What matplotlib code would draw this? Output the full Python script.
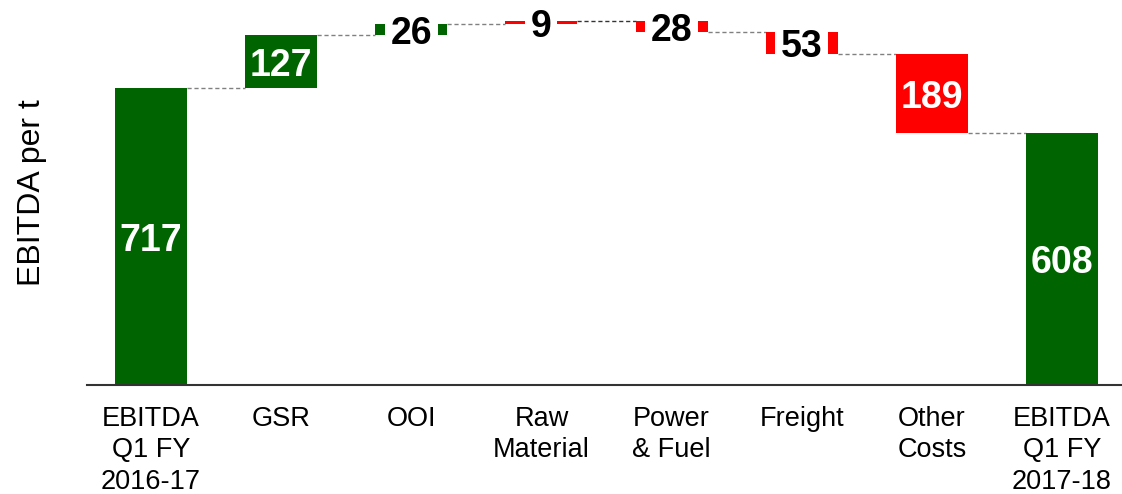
import numpy as np
import matplotlib
matplotlib.use('Agg')
import matplotlib.pyplot as plt

# data
categories = ['EBITDA\nQ1 FY\n2016-17', 'GSR', 'OOI', 'Raw\nMaterial', 'Power\n& Fuel',
              'Freight', 'Other\nCosts', 'EBITDA\nQ1 FY\n2017-18']
start_value = 717
end_value = 608
changes = [127, 26, 9, -28, -53, -189]
change_labels = ['127', '26', '9', '28', '53', '189']
is_cost = [False, False, True, True, True, True]

GREEN = '#006400'
RED = '#ff0000'

plt.rcParams['font.family'] = ['Liberation Sans', 'DejaVu Sans']

fig = plt.figure(figsize=(11.22, 4.94), dpi=100)
ax = fig.add_axes([87/1122., 109/494., 1035/1122., 385/494.])

width = 0.553
n = len(categories)
x = np.arange(n)

# bottoms / heights of every bar
bottoms = [0]
heights = [start_value]
colors = [GREEN]
labels = [str(start_value)]
level = start_value
for c, lab, cost in zip(changes, change_labels, is_cost):
	bottoms.append(level if c >= 0 else level + c)
	heights.append(abs(c))
	colors.append(RED if cost else GREEN)
	labels.append(lab)
	level += c
bottoms.append(0)
heights.append(end_value)
colors.append(GREEN)
labels.append(str(end_value))

ax.bar(x, heights, width, bottom=bottoms, color=colors, linewidth=0, zorder=2)

# connector lines
levels = [start_value]
level = start_value
for c in changes:
	level += c
	levels.append(level)
for i in range(n - 1):
	lc = '#333333' if i == 3 else '#808080'
	ax.plot([x[i] + width/2, x[i+1] - width/2], [levels[i], levels[i]],
	        color=lc, lw=1, ls=(0, (3, 2)), zorder=1)

# value labels
for i in range(n):
	yc = bottoms[i] + heights[i]/2.
	if heights[i] > 100:
		ax.annotate(labels[i], (x[i], yc), xytext=(0, -3), textcoords='offset points',
		            ha='center', va='center', color='white',
		            fontsize=27, fontweight='bold', zorder=3)
	else:
		ax.annotate(labels[i], (x[i], yc), xytext=(0, -3), textcoords='offset points',
		            ha='center', va='center', color='black',
		            fontsize=27, fontweight='bold', zorder=3,
		            bbox=dict(boxstyle='square,pad=0.15', fc='white', ec='none'))

ax.set_xlim(-0.492, 7.461)
ax.set_ylim(0, 929)
ax.set_xticks(x)
ax.set_xticklabels(categories, fontsize=19.5, linespacing=1.28)
ax.tick_params(axis='x', length=0, pad=15)
ax.set_yticks([])
for s in ['top', 'right', 'left']:
	ax.spines[s].set_visible(False)
ax.spines['bottom'].set_color('#333333')
ax.spines['bottom'].set_linewidth(1.5)

fig.text(32/1122., 1 - 193/494., 'EBITDA per t', rotation=90, ha='center', va='center', fontsize=23)

fig.savefig('out.png', dpi=100)
